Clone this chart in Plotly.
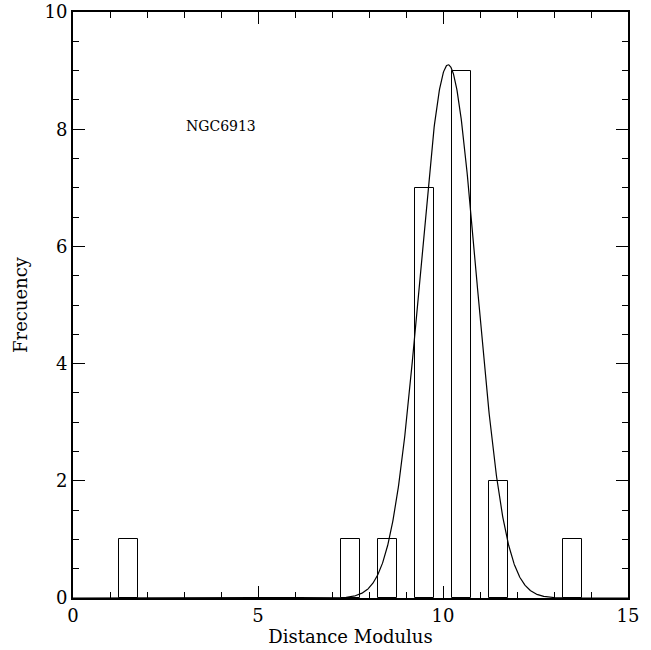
import numpy as np
import plotly.graph_objects as go

# Histogram data (bin centers, counts)
bin_centers = [1.5, 7.5, 8.5, 9.5, 10.5, 11.5, 13.5]
counts = [1, 1, 1, 7, 9, 2, 1]
bar_width = 0.5

# Gaussian fit parameters
fit_mean = 10.14
fit_sigma = 0.76
fit_amp = 9.1

x_ticks = [0, 5, 10, 15]
y_ticks = [0, 2, 4, 6, 8, 10]
label_text = "NGC6913"

xs = np.linspace(0, 15, 1501)
ys = fit_amp * np.exp(-((xs - fit_mean) ** 2) / (2 * fit_sigma ** 2))

FONT = "DejaVu Serif"

fig = go.Figure()
fig.add_trace(go.Bar(
    x=bin_centers, y=counts, width=bar_width,
    marker=dict(color="rgba(0,0,0,0)", line=dict(color="black", width=1)),
    hoverinfo="x+y", showlegend=False,
))
fig.add_trace(go.Scatter(
    x=xs, y=ys, mode="lines",
    line=dict(color="black", width=1.2), showlegend=False,
))

fig.add_annotation(
    x=3, y=8.05, text=label_text, showarrow=False,
    xanchor="left", yanchor="middle",
    font=dict(family=FONT, size=14, color="black"),
)

axis_common = dict(
    showgrid=False, zeroline=False, automargin=False,
    showline=True, linecolor="black", linewidth=2, mirror="allticks",
    ticks="inside", ticklen=12, tickwidth=1, tickcolor="black",
    tickfont=dict(family=FONT, size=18, color="black"),
    ticklabeloverflow="allow",
)

fig.update_xaxes(
    range=[0, 15], tickvals=x_ticks, ticktext=[str(v) for v in x_ticks],
    title=dict(text="Distance Modulus", font=dict(family=FONT, size=18, color="black"), standoff=2),
    minor=dict(ticks="inside", ticklen=6, dtick=1, tickcolor="black", tickwidth=1, showgrid=False),
    **axis_common,
)
fig.update_yaxes(
    range=[0, 10], tickvals=y_ticks, ticktext=[str(v) for v in y_ticks],
    title=dict(text="Frecuency", font=dict(family=FONT, size=18, color="black"), standoff=12),
    minor=dict(ticks="inside", ticklen=6, dtick=0.5, tickcolor="black", tickwidth=1, showgrid=False),
    **axis_common,
)

fig.update_layout(
    width=651, height=650,
    margin=dict(l=73, r=23, t=12, b=52),
    plot_bgcolor="white", paper_bgcolor="white",
    bargap=0,
)

fig.write_html("out.html", config={"displayModeBar": False},
               post_script="document.body.style.margin='0';")
